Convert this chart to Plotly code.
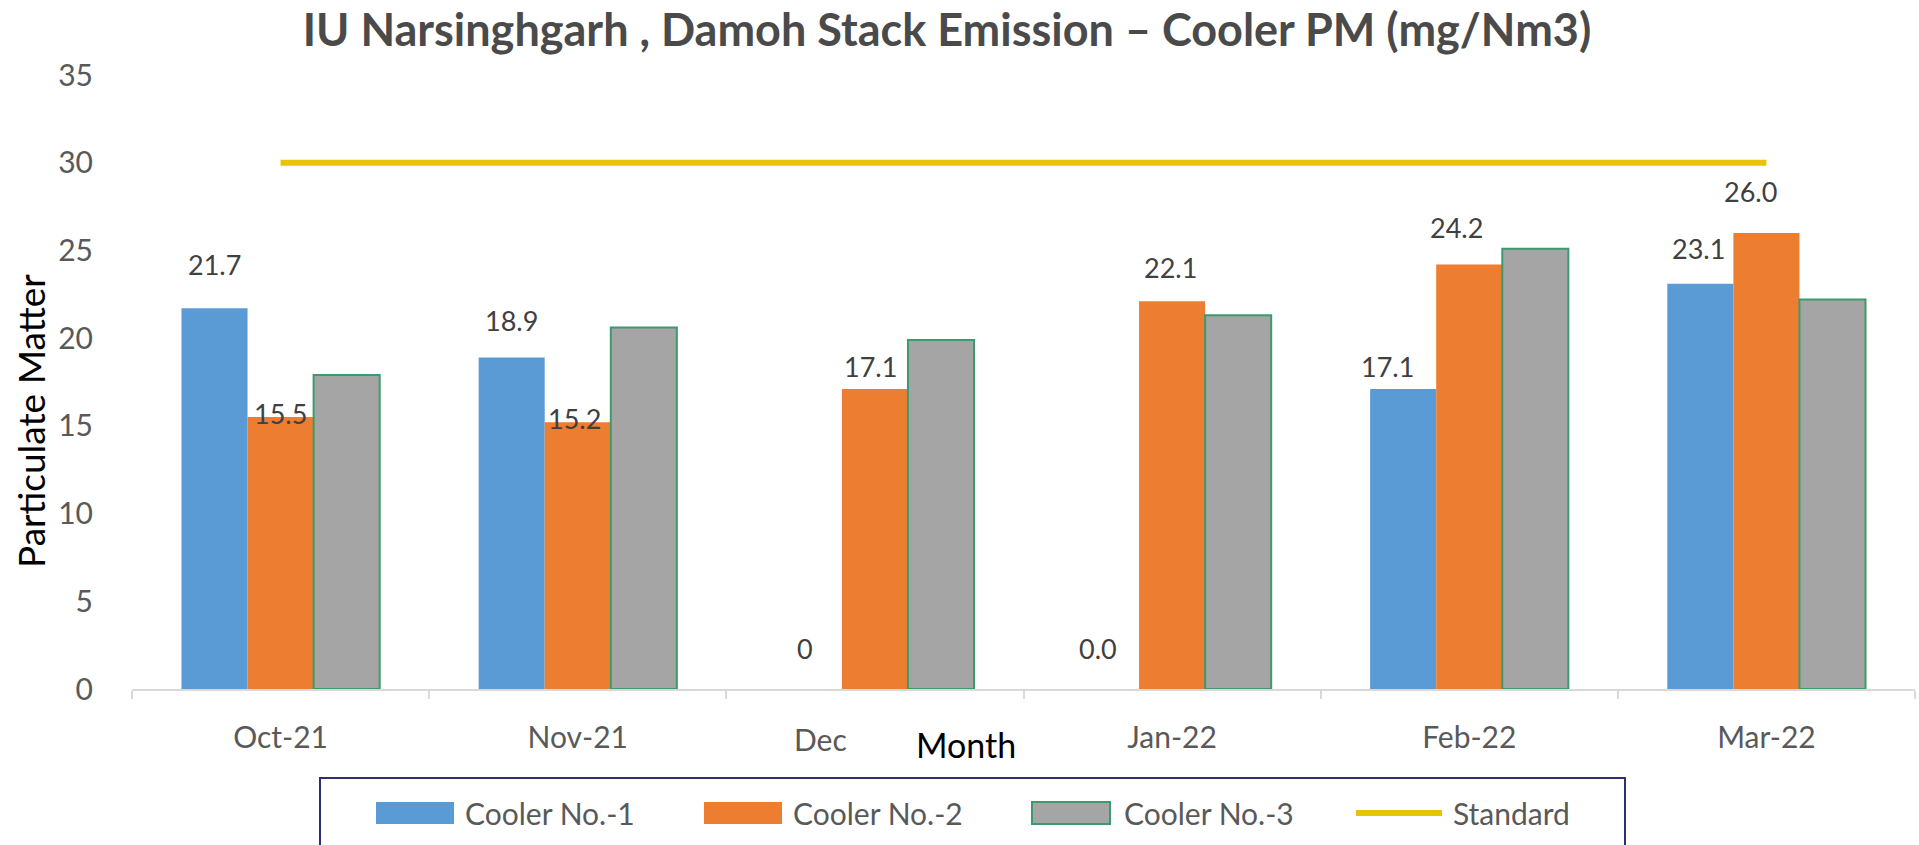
import plotly.graph_objects as go

months = ["Oct-21", "Nov-21", "Dec", "Jan-22", "Feb-22", "Mar-22"]
month_ticktext = ["Oct-21", "Nov-21", "", "Jan-22", "Feb-22", "Mar-22"]
cooler1 = [21.7, 18.9, 0, 0.0, 17.1, 23.1]
cooler1_labels = ["21.7", "18.9", "0", "0.0", "17.1", "23.1"]
cooler2 = [15.5, 15.2, 17.1, 22.1, 24.2, 26.0]
cooler2_labels = ["15.5", "15.2", "17.1", "22.1", "24.2", "26.0"]
cooler3 = [17.9, 20.6, 19.9, 21.3, 25.1, 22.2]
standard = [30, 30, 30, 30, 30, 30]
y_ticks = [0, 5, 10, 15, 20, 25, 30, 35]
series_names = ["Cooler No.-1", "Cooler No.-2", "Cooler No.-3", "Standard"]

FONT = "Lato, Carlito, Calibri, sans-serif"
GRAY_TXT = "#595959"
C_BLUE, C_ORANGE, C_GRAY, C_GREEN, C_YELLOW = "#5B9BD5", "#ED7D31", "#A5A5A5", "#3C9B6E", "#E8C300"

W, H = 1919, 845
L, R, T, B = 132, 4, 75, 156
PW, PH = W - L - R, H - T - B


def px(xp):
    return (xp - L) / PW


def py(yp):
    return (H - B - yp) / PH


fig = go.Figure()
fig.add_trace(go.Bar(name=series_names[0], x=months, y=cooler1, marker=dict(color=C_BLUE, line=dict(width=0))))
fig.add_trace(go.Bar(name=series_names[1], x=months, y=cooler2, marker=dict(color=C_ORANGE, line=dict(width=0))))
fig.add_trace(go.Bar(name=series_names[2], x=months, y=cooler3, marker=dict(color=C_GRAY, line=dict(width=2, color=C_GREEN))))
fig.add_trace(go.Scatter(name=series_names[3], x=months, y=standard, mode="lines", line=dict(color=C_YELLOW, width=6)))

# data labels (values/texts from the arrays; pixel offsets are styling)
bar_px = 66
c1_yshift = [25, 18, 22, 22, 4, 17]
c2_yshift = [-15, -15, 4, 15, 18, 23]
c1_xshift = [0, 0, -4, -8, -16, -2]
c2_xshift = [0, -3, -4, -2, -13, -16]
for i, m in enumerate(months):
    fig.add_annotation(x=m, y=cooler1[i], text=cooler1_labels[i], showarrow=False,
                       xshift=-bar_px + c1_xshift[i], yshift=c1_yshift[i], yanchor="bottom",
                       font=dict(family=FONT, size=27, color="#404040"))
    fig.add_annotation(x=m, y=cooler2[i], text=cooler2_labels[i], showarrow=False,
                       xshift=c2_xshift[i], yshift=c2_yshift[i], yanchor="bottom",
                       font=dict(family=FONT, size=27, color="#404040"))

# "Dec" category label sits left of its slot in the original (next to the axis title)
fig.add_annotation(text=months[2], x=months[2], xref="x", yref="paper", y=py(739), xshift=-54,
                   xanchor="center", yanchor="middle", showarrow=False,
                   font=dict(family=FONT, size=30, color=GRAY_TXT))

# axis titles
fig.add_annotation(text="Particulate Matter", xref="paper", yref="paper", x=px(30), y=py(421),
                   xanchor="center", yanchor="middle", textangle=-90, showarrow=False,
                   font=dict(family=FONT, size=37, color="#000000"))
fig.add_annotation(text="Month", xref="paper", yref="paper", x=px(966), y=py(744),
                   xanchor="center", yanchor="middle", showarrow=False,
                   font=dict(family=FONT, size=34, color="#000000"))

# legend (drawn as a boxed row, like the original)
shapes = [dict(type="rect", xref="paper", yref="paper", x0=px(320), x1=px(1625), y0=py(778), y1=py(860),
               line=dict(color="#2F2F6F", width=2), fillcolor="white", layer="above")]
legend_swatch_x = [376, 704, 1032, 1356]
legend_text_x = [463, 791, 1122, 1451]
legend_y = 813
sw_w = 78
for k in range(3):
    col = [C_BLUE, C_ORANGE, C_GRAY][k]
    lc = [C_BLUE, C_ORANGE, C_GREEN][k]
    shapes.append(dict(type="rect", xref="paper", yref="paper",
                       x0=px(legend_swatch_x[k]), x1=px(legend_swatch_x[k] + sw_w),
                       y0=py(legend_y - 11), y1=py(legend_y + 11),
                       fillcolor=col, line=dict(color=lc, width=2 if k == 2 else 0), layer="above"))
shapes.append(dict(type="line", xref="paper", yref="paper",
                   x0=px(legend_swatch_x[3]), x1=px(legend_swatch_x[3] + 86),
                   y0=py(legend_y), y1=py(legend_y), line=dict(color=C_YELLOW, width=6), layer="above"))
for k in range(4):
    fig.add_annotation(text=series_names[k], xref="paper", yref="paper", x=px(legend_text_x[k]), y=py(legend_y),
                       xanchor="left", yanchor="middle", showarrow=False,
                       font=dict(family=FONT, size=30, color=GRAY_TXT))

fig.update_layout(
    width=W, height=H,
    margin=dict(l=L, r=R, t=T, b=B),
    paper_bgcolor="white", plot_bgcolor="white",
    barmode="group", bargap=0.333, bargroupgap=0,
    font=dict(family=FONT, color=GRAY_TXT),
    showlegend=False,
    shapes=shapes,
    title=dict(text="<b>IU Narsinghgarh , Damoh Stack Emission – Cooler PM (mg/Nm3)</b>",
               x=947 / W, xanchor="center", y=1 - 30 / H, yanchor="middle",
               font=dict(family=FONT, size=45, color="#4A4A4A")),
    xaxis=dict(type="category", tickmode="array", tickvals=months, ticktext=month_ticktext,
               showline=True, linecolor="#D9D9D9", linewidth=2,
               ticks="outside", tickson="boundaries", ticklen=8, tickcolor="#D9D9D9", tickwidth=2,
               tickfont=dict(family=FONT, size=30, color=GRAY_TXT), ticklabelstandoff=21,
               showgrid=False, zeroline=False),
    yaxis=dict(range=[0, 35], tickvals=y_ticks, showgrid=False, zeroline=False, showline=False,
               tickfont=dict(family=FONT, size=30, color=GRAY_TXT), ticklabelstandoff=38),
)

fig.write_html("out.html", config={"displayModeBar": False},
               post_script="document.body.style.margin='0';document.body.style.overflow='hidden';")
